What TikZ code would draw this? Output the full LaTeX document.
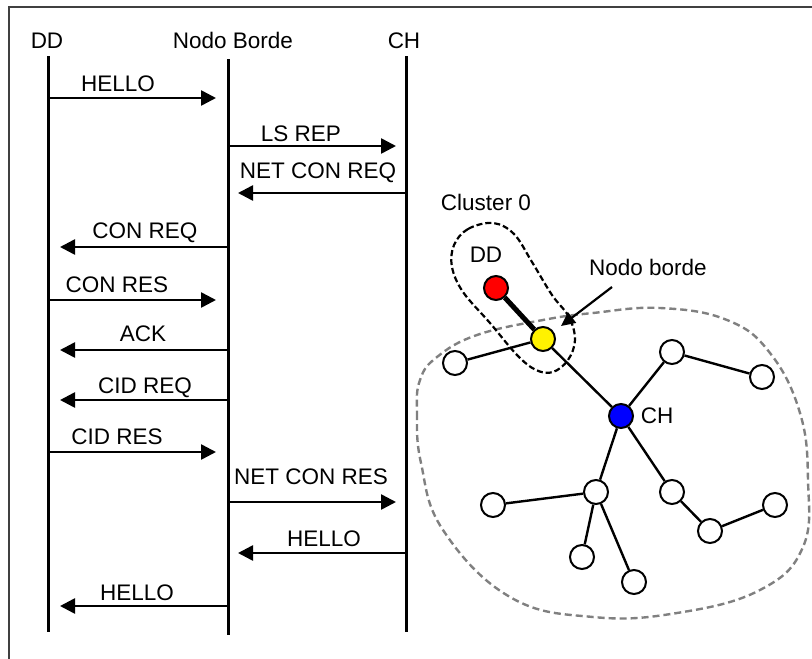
\documentclass[tikz,border=0pt]{standalone}
\usepackage{fontspec}
\setmainfont{Liberation Sans}
\usetikzlibrary{arrows.meta}
\begin{document}
\begin{tikzpicture}[x=1pt,y=-1pt,
  lifeline/.style={line width=3pt},
  msg/.style={line width=2.6pt,-{Triangle[length=15pt,width=15pt]}},
  lbl/.style={anchor=base,inner sep=0pt,font=\fontsize{22.5}{26}\selectfont},
  vertex/.style={circle,draw,line width=2pt,minimum size=24pt,inner sep=0pt,fill=white},
  edge/.style={line width=2.4pt},
  frame/.style={line width=2pt,black!75}]
\useasboundingbox (0,0) rectangle (812,659);

% outer frame (top and left edges)
\coordinate (fA) at (9,659);
\coordinate (fB) at (9,7);
\coordinate (fC) at (812,7);
\draw[frame] (fA) -- (fB) -- (fC);

% lifeline headers
\node[lbl] (hDD) at (47,48) {DD};
\node[lbl] (hNB) at (233,48) {Nodo Borde};
\node[lbl] (hCH) at (404,48) {CH};

% lifelines
\coordinate (ddTop) at (48,56);  \coordinate (ddBot) at (48,632);
\coordinate (nbTop) at (228,59); \coordinate (nbBot) at (228,635);
\coordinate (chTop) at (406,56); \coordinate (chBot) at (406,632);
\draw[lifeline] (ddTop) -- (ddBot);
\draw[lifeline] (nbTop) -- (nbBot);
\draw[lifeline] (chTop) -- (chBot);

% messages
\foreach \n/\y/\xa/\xb/\lx/\ly/\t in {
  1/98/48/216/118/91/HELLO,
  2/146/228/396/301/141/LS REP,
  3/193/406/238/318/178/NET CON REQ,
  4/247/228/60/145/238/CON REQ,
  5/300/48/216/117/292/CON RES,
  6/350/228/60/143/341/ACK,
  7/400/228/60/145/393/CID REQ,
  8/452/48/216/117/444/CID RES,
  9/502/228/396/311/484/NET CON RES,
  10/553/406/238/324/546/HELLO,
  11/606/228/60/137/600/HELLO}{
  \coordinate (m\n a) at (\xa,\y);
  \coordinate (m\n b) at (\xb,\y);
  \draw[msg] (m\n a) -- (m\n b);
  \node[lbl] (t\n) at (\lx,\ly) {\t};
}

% cluster outline (grey) and cluster 0 outline (black)
\draw[gray,line width=2.4pt,dash pattern=on 7pt off 4pt]
  plot[smooth cycle,tension=0.7] coordinates {
  (420,380) (417,413) (421,463) (443,530) (510,597) (593,617) (677,613)
  (760,590) (803,547) (808,480) (800,413) (770,353) (727,320) (660,308)
  (593,313) (543,320) (477,335) (437,357)};
\draw[black,line width=2.2pt,dash pattern=on 6pt off 3pt]
  plot[smooth cycle,tension=0.6] coordinates {
  (493,223) (468,229) (454,245) (452,267) (463,292) (490,323) (517,355)
  (536,370) (553,372) (568,360) (575,340) (569,317) (552,295) (532,262)
  (514,234)};

% tree nodes
\node[vertex,fill=red]    (dd) at (496,288) {};
\node[vertex,fill=yellow] (nb) at (543,339) {};
\node[vertex,fill=blue]   (ch) at (621,416) {};
\node[vertex] (n1)  at (455,363) {};
\node[vertex] (n2)  at (672,352) {};
\node[vertex] (n3)  at (762,377) {};
\node[vertex] (n4)  at (596,492) {};
\node[vertex] (n5)  at (493,505) {};
\node[vertex] (n6)  at (582,557) {};
\node[vertex] (n7)  at (634,582) {};
\node[vertex] (n8)  at (672,492) {};
\node[vertex] (n9)  at (710,531) {};
\node[vertex] (n10) at (775,505) {};

% tree edges
\draw[line width=5pt] (dd) -- (nb);
\draw[edge] (nb) -- (n1);
\draw[edge] (nb) -- (ch);
\draw[edge] (ch) -- (n2);
\draw[edge] (n2) -- (n3);
\draw[edge] (ch) -- (n4);
\draw[edge] (n4) -- (n5);
\draw[edge] (n4) -- (n6);
\draw[edge] (n4) -- (n7);
\draw[edge] (ch) -- (n8);
\draw[edge] (n8) -- (n9);
\draw[edge] (n9) -- (n10);

% labels of the tree
\node[lbl] (lcl) at (486,210) {Cluster 0};
\node[lbl] (ldd) at (486,262) {DD};
\node[lbl] (lch) at (657,423) {CH};
\node[lbl] (lnb) at (648,275) {Nodo borde};
\coordinate (pnb) at (612,287);
\coordinate (pnbTip) at (561,326);
\draw[line width=2.2pt,-{Triangle[length=14pt,width=13pt]}] (pnb) -- (pnbTip);
\end{tikzpicture}
\end{document}
